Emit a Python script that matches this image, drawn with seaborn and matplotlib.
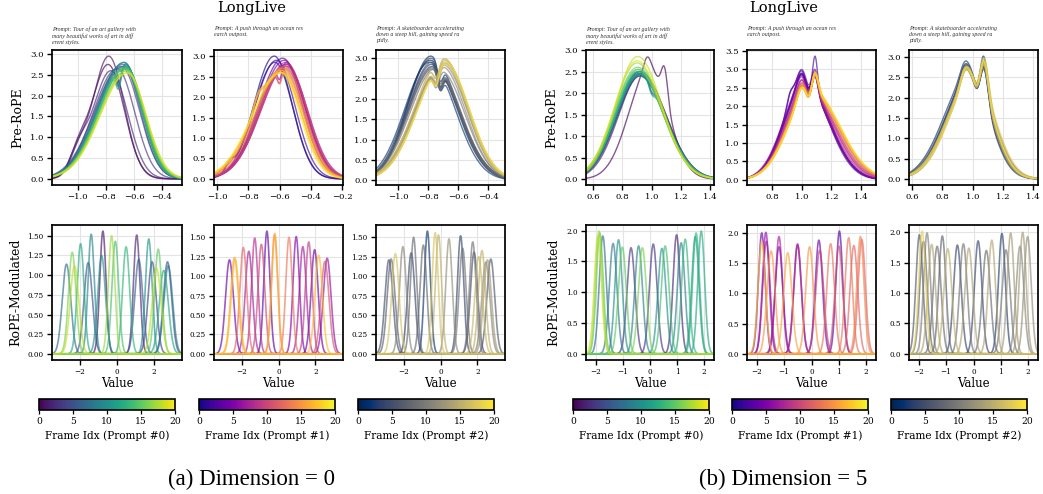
import numpy as np
import pandas as pd
import matplotlib
matplotlib.use("Agg")
import matplotlib.pyplot as plt
import seaborn as sns
from matplotlib.cm import ScalarMappable
from matplotlib.colors import Normalize

# ---------------------------------------------------------------- data
TITLE = "LongLive"
CAPTIONS = ["(a) Dimension = 0", "(b) Dimension = 5"]
PROMPTS = [
    "Prompt: Tour of an art gallery with\nmany beautiful works of art in diff\nerent styles.",
    "Prompt: A push through an ocean res\nearch outpost.",
    "Prompt: A skateboarder accelerating\ndown a steep hill, gaining speed ra\npidly.",
]
CMAPS = ["viridis", "plasma", "cividis"]
CBAR_LABELS = ["Frame Idx (Prompt #0)", "Frame Idx (Prompt #1)", "Frame Idx (Prompt #2)"]
CBAR_TICKS = [0, 5, 10, 15, 20]
FRAME_RANGE = (0, 20)
TOP_FRAMES = list(range(20))

# ---- Pre-RoPE (top row): per-frame centre, peak, left/right spread, plus local bumps
# dimension 0
a0_mu = [-0.785, -0.78, -0.765, -0.72, -0.69, -0.68, -0.675, -0.67, -0.67, -0.665,
         -0.67, -0.66, -0.665, -0.66, -0.665, -0.66, -0.655, -0.65, -0.65, -0.645]
a0_pk = [2.75, 2.95, 2.6, 2.65, 2.7, 2.75, 2.7, 2.8, 2.78, 2.75,
         2.8, 2.7, 2.65, 2.7, 2.68, 2.65, 2.6, 2.6, 2.55, 2.55]
a0_sl = [0.12, 0.115, 0.13, 0.17, 0.19, 0.19, 0.185, 0.19, 0.19, 0.185,
         0.19, 0.19, 0.185, 0.19, 0.19, 0.19, 0.19, 0.195, 0.19, 0.195]
a0_sr = [0.115, 0.11, 0.12, 0.125, 0.13, 0.125, 0.13, 0.125, 0.13, 0.13,
         0.125, 0.13, 0.13, 0.13, 0.125, 0.13, 0.13, 0.13, 0.135, 0.13]
a0_bumps = [(-1.0, 0.06, 0.45, [0, 1, 2]), (-0.71, 0.018, -0.45, [8, 9, 11])]

a1_mu = [-0.635, -0.63, -0.62, -0.58, -0.57, -0.565, -0.56, -0.555, -0.56, -0.555,
         -0.56, -0.565, -0.57, -0.575, -0.58, -0.58, -0.585, -0.59, -0.59, -0.595]
a1_pk = [3.0, 2.85, 2.9, 2.95, 2.9, 2.85, 2.8, 2.75, 2.85, 2.8,
         2.75, 2.7, 2.75, 2.7, 2.65, 2.7, 2.6, 2.65, 2.6, 2.6]
a1_sl = [0.13, 0.135, 0.14, 0.155, 0.16, 0.16, 0.165, 0.165, 0.16, 0.165,
         0.165, 0.17, 0.17, 0.175, 0.175, 0.18, 0.18, 0.175, 0.18, 0.18]
a1_sr = [0.115, 0.115, 0.12, 0.125, 0.13, 0.13, 0.13, 0.135, 0.13, 0.13,
         0.135, 0.13, 0.13, 0.13, 0.13, 0.13, 0.125, 0.13, 0.13, 0.125]
a1_bumps = [(-0.92, 0.025, 0.2, [0, 1]), (-0.74, 0.03, 0.25, [15, 16, 17]),
            (-0.60, 0.015, -0.35, [5, 9, 13])]

a2_mu = [-0.785, -0.78, -0.79, -0.775, -0.78, -0.77, -0.775, -0.765, -0.76, -0.75,
         -0.72, -0.71, -0.705, -0.70, -0.70, -0.695, -0.69, -0.70, -0.69, -0.685]
a2_pk = [2.95, 3.05, 2.9, 2.85, 3.0, 2.8, 2.9, 2.75, 2.8, 2.75,
         2.7, 2.8, 2.85, 2.9, 3.0, 2.95, 2.9, 3.0, 2.85, 2.9]
a2_sl = [0.16, 0.155, 0.165, 0.16, 0.155, 0.165, 0.16, 0.165, 0.17, 0.17,
         0.18, 0.18, 0.175, 0.18, 0.185, 0.18, 0.18, 0.185, 0.18, 0.185]
a2_sr = [0.175, 0.18, 0.17, 0.18, 0.175, 0.18, 0.175, 0.175, 0.17, 0.17,
         0.165, 0.16, 0.165, 0.16, 0.16, 0.165, 0.16, 0.16, 0.165, 0.16]
a2_bumps = [(-0.72, 0.018, -0.45, list(range(0, 10))), (-0.745, 0.02, -0.4, list(range(10, 20)))]

# dimension 5
b0_mu = [0.985, 0.93, 0.925, 0.92, 0.92, 0.915, 0.92, 0.915, 0.92, 0.915,
         0.92, 0.91, 0.915, 0.91, 0.91, 0.905, 0.905, 0.90, 0.905, 0.90]
b0_pk = [2.55, 2.45, 2.4, 2.5, 2.45, 2.5, 2.4, 2.45, 2.5, 2.4,
         2.45, 2.5, 2.45, 2.55, 2.5, 2.6, 2.55, 2.7, 2.85, 2.75]
b0_sl = [0.14, 0.155, 0.16, 0.16, 0.155, 0.16, 0.16, 0.155, 0.16, 0.16,
         0.16, 0.155, 0.16, 0.16, 0.155, 0.16, 0.16, 0.155, 0.15, 0.155]
b0_sr = [0.13, 0.17, 0.17, 0.175, 0.17, 0.17, 0.175, 0.17, 0.17, 0.175,
         0.17, 0.17, 0.175, 0.17, 0.17, 0.175, 0.17, 0.17, 0.165, 0.17]
b0_bumps = [(0.97, 0.025, 0.3, [0]), (1.09, 0.022, 0.75, [0]),
            (1.0, 0.02, -0.2, [5, 8, 11])]

b1_mu = [1.02, 1.015, 1.02, 1.025, 1.02, 1.015, 1.02, 1.03, 1.035, 1.04,
         1.045, 1.05, 1.055, 1.06, 1.06, 1.055, 1.06, 1.065, 1.06, 1.065]
b1_pk = [2.65, 2.7, 2.6, 2.65, 2.75, 2.6, 2.55, 2.5, 2.5, 2.45,
         2.45, 2.4, 2.45, 2.4, 2.45, 2.5, 2.4, 2.45, 2.4, 2.45]
b1_sl = [0.136, 0.135, 0.138, 0.136, 0.135, 0.14, 0.138, 0.142, 0.144, 0.146,
         0.148, 0.15, 0.15, 0.152, 0.152, 0.15, 0.154, 0.152, 0.155, 0.152]
b1_sr = [0.164, 0.16, 0.165, 0.162, 0.164, 0.168, 0.166, 0.17, 0.174, 0.176,
         0.178, 0.18, 0.182, 0.185, 0.188, 0.185, 0.19, 0.188, 0.19, 0.188]
b1_bumps = [(0.995, 0.03, 0.3, list(range(20))), (1.09, 0.02, 0.5, list(range(20))),
            (1.045, 0.02, -0.25, list(range(20))), (1.09, 0.015, 0.5, [2]),
            (0.92, 0.02, 0.25, [1, 4])]

b2_mu = [0.99, 0.995, 0.985, 0.99, 1.0, 0.995, 0.99, 1.0, 0.995, 1.0,
         1.0, 1.005, 1.0, 1.005, 1.01, 1.0, 1.005, 1.01, 1.005, 1.01]
b2_pk = [2.55, 2.5, 2.6, 2.5, 2.55, 2.45, 2.5, 2.55, 2.5, 2.45,
         2.5, 2.55, 2.5, 2.45, 2.55, 2.5, 2.45, 2.55, 2.5, 2.5]
b2_sl = [0.165, 0.16, 0.17, 0.165, 0.16, 0.165, 0.17, 0.165, 0.16, 0.165,
         0.17, 0.165, 0.16, 0.165, 0.17, 0.165, 0.16, 0.165, 0.17, 0.165]
b2_sr = [0.13, 0.135, 0.13, 0.125, 0.13, 0.135, 0.13, 0.125, 0.13, 0.135,
         0.13, 0.125, 0.13, 0.135, 0.13, 0.125, 0.13, 0.135, 0.13, 0.125]
b2_bumps = [(0.95, 0.03, 0.35, list(range(20))), (1.08, 0.025, 0.75, list(range(20))),
            (1.03, 0.02, -0.25, list(range(20))), (1.07, 0.02, 0.25, [0])]

TOP = [[(a0_mu, a0_pk, a0_sl, a0_sr, a0_bumps), (a1_mu, a1_pk, a1_sl, a1_sr, a1_bumps),
        (a2_mu, a2_pk, a2_sl, a2_sr, a2_bumps)],
       [(b0_mu, b0_pk, b0_sl, b0_sr, b0_bumps), (b1_mu, b1_pk, b1_sl, b1_sr, b1_bumps),
        (b2_mu, b2_pk, b2_sl, b2_sr, b2_bumps)]]
TOP_XLIM = [[(-1.185, -0.257), (-1.02, -0.195), (-1.147, -0.287)],
            [(0.552, 1.427), (0.631, 1.50), (0.58, 1.433)]]
TOP_XTICKS = [[[-1.0, -0.8, -0.6, -0.4], [-1.0, -0.8, -0.6, -0.4, -0.2], [-1.0, -0.8, -0.6, -0.4]],
              [[0.6, 0.8, 1.0, 1.2, 1.4], [0.8, 1.0, 1.2, 1.4], [0.6, 0.8, 1.0, 1.2, 1.4]]]
TOP_YTICKS = [[[0, 0.5, 1, 1.5, 2, 2.5, 3]] * 3,
              [[0, 0.5, 1, 1.5, 2, 2.5, 3], [0, 0.5, 1, 1.5, 2, 2.5, 3, 3.5],
               [0, 0.5, 1, 1.5, 2, 2.5, 3]]]

# ---- RoPE-modulated (bottom row): each bump = (centre, peak, frame)
ra0_c = [-2.72, -2.41, -2.29, -1.96, -1.55, -1.39, -0.83, -0.76, -0.29, -0.09,
         0.49, 1.06, 1.17, 1.71, 1.89, 2.13, 2.22, 2.52, 2.72, 2.76]
ra0_h = [1.14, 1.29, 1.12, 1.40, 1.16, 1.52, 1.25, 1.56, 1.50, 1.43,
         1.36, 1.51, 1.20, 1.46, 1.17, 1.09, 1.33, 1.06, 1.17, 1.12]
ra0_f = [7, 16, 18, 12, 5, 9, 10, 1, 17, 14, 13, 2, 6, 10, 4, 18, 15, 12, 5, 8]

ra1_c = [-2.66, -2.39, -2.35, -1.91, -1.61, -1.29, -0.93, -0.63, -0.22, -0.20,
         0.57, 0.96, 1.32, 1.64, 1.96, 2.18, 2.52, 2.64]
ra1_h = [1.21, 1.24, 1.22, 1.37, 1.32, 1.49, 1.41, 1.58, 1.53, 1.55,
         1.50, 1.51, 1.38, 1.44, 1.34, 1.27, 1.19, 1.23]
ra1_f = [4, 16, 17, 12, 7, 8, 10, 3, 15, 16, 13, 5, 7, 9, 4, 17, 11, 6]

ra2_c = [-2.80, -2.68, -2.45, -2.04, -1.59, -1.46, -0.93, -0.71, -0.29, -0.11,
         0.46, 1.09, 1.20, 1.75, 1.82, 2.07, 2.25, 2.46, 2.55, 2.73]
ra2_h = [1.21, 1.22, 1.29, 1.38, 1.30, 1.50, 1.40, 1.58, 1.56, 1.53,
         1.48, 1.52, 1.36, 1.44, 1.31, 1.25, 1.33, 1.18, 1.21, 1.22]
ra2_f = [5, 7, 17, 11, 4, 8, 8, 2, 17, 15, 12, 4, 9, 9, 5, 16, 15, 11, 13, 6]

rb0_c = [-1.92, -1.88, -1.85, -1.74, -1.36, -1.16, -1.02, -0.70, -0.42, -0.28,
         0.12, 0.44, 0.56, 0.98, 1.15, 1.30, 1.67, 1.70, 1.89]
rb0_h = [1.91, 1.99, 1.96, 1.91, 1.79, 1.85, 1.73, 1.72, 1.75, 1.72,
         1.78, 1.71, 1.75, 1.93, 1.80, 1.86, 1.90, 1.96, 1.99]
rb0_f = [18, 17, 15, 7, 8, 10, 15, 3, 9, 16, 3, 10, 14, 2, 9, 13, 11, 13, 12]

rb1_c = [-1.82, -1.67, -1.82, -1.65, -1.48, -1.19, -1.19, -0.87, -0.51, -0.51,
         -0.07, 0.27, 0.30, 0.70, 1.02, 1.00, 1.36, 1.55, 1.79, 1.84]
rb1_h = [2.00, 2.01, 1.85, 1.86, 1.70, 1.94, 1.77, 1.67, 1.82, 1.80,
         1.77, 1.88, 1.71, 1.82, 2.03, 1.78, 1.92, 1.79, 1.94, 1.89]
rb1_f = [4, 6, 17, 7, 15, 7, 5, 16, 8, 5, 15, 4, 9, 13, 3, 10, 13, 12, 14, 12]

rb2_c = [-1.98, -1.88, -1.83, -1.70, -1.53, -1.33, -1.14, -0.94, -0.59, -0.37,
         -0.17, 0.17, 0.47, 0.67, 1.04, 1.19, 1.36, 1.70, 1.80, 1.98]
rb2_h = [1.96, 2.02, 1.85, 1.99, 1.80, 1.77, 1.94, 1.73, 1.79, 1.81,
         1.74, 1.86, 1.70, 1.87, 1.98, 1.71, 1.99, 1.77, 2.00, 1.93]
rb2_f = [6, 18, 8, 10, 14, 8, 7, 15, 4, 9, 14, 4, 8, 14, 3, 9, 13, 11, 13, 12]

BOT = [[(ra0_c, ra0_h, ra0_f), (ra1_c, ra1_h, ra1_f), (ra2_c, ra2_h, ra2_f)],
       [(rb0_c, rb0_h, rb0_f), (rb1_c, rb1_h, rb1_f), (rb2_c, rb2_h, rb2_f)]]
BOT_AREA = [0.65, 0.63]          # area under each bump
BOT_XLIM = [(-3.5, 3.5), (-2.36, 2.36)]
BOT_XTICKS = [[-2, 0, 2], [-2, -1, 0, 1, 2]]
BOT_YTICKS = [[0, 0.25, 0.5, 0.75, 1.0, 1.25, 1.5], [0, 0.5, 1.0, 1.5, 2.0]]

# ---------------------------------------------------------------- style
sns.set_theme(style="ticks")
plt.rcParams["font.family"] = ["DejaVu Serif"]
plt.rcParams.update({
    "axes.linewidth": 1.25, "axes.edgecolor": "black",
    "xtick.color": "black", "ytick.color": "black",
    "xtick.major.size": 3.5, "ytick.major.size": 3.5,
    "xtick.major.width": 1.0, "ytick.major.width": 1.0,
    "xtick.major.pad": 2.5, "ytick.major.pad": 2.5,
    "axes.labelcolor": "black", "text.color": "black",
})

W, H = 1043, 494
fig = plt.figure(figsize=(W / 100, H / 100), dpi=100)


def box(x0, y0, x1, y1):
    return [x0 / W, 1 - y1 / H, (x1 - x0) / W, (y1 - y0) / H]


COL_X = [[(52, 182), (214, 343), (376, 505)], [(586, 714), (747, 876), (909, 1038)]]
CBAR_X = [[(39, 175), (199, 335), (358, 494)], [(573, 709), (732, 868), (891, 1027)]]
TOP_Y, BOT_Y, CBAR_Y = (50, 185), (225, 360), (399, 410)


def top_df(params, xlim):
    mu, pk, sl, sr, bumps = params
    x = np.linspace(xlim[0], xlim[1], 500)
    rows = []
    for f in TOP_FRAMES:
        s = np.where(x < mu[f], sl[f], sr[f])
        y = pk[f] * np.exp(-0.5 * ((x - mu[f]) / s) ** 2)
        for pos, sd, h, frames in bumps:
            if f in frames:
                y = y + h * np.exp(-0.5 * ((x - pos) / sd) ** 2)
        y = np.clip(y, 0, None)
        rows.append(pd.DataFrame({"x": x, "y": y, "frame": f, "unit": f}))
    return pd.concat(rows, ignore_index=True)


def bot_df(params, xlim, area):
    cs, hs, fs = params
    x = np.linspace(xlim[0], xlim[1], 700)
    rows = []
    order = np.argsort(fs, kind="stable")
    for k in order:
        sd = area / (hs[k] * np.sqrt(2 * np.pi))
        y = hs[k] * np.exp(-0.5 * ((x - cs[k]) / sd) ** 2)
        rows.append(pd.DataFrame({"x": x, "y": y, "frame": fs[k], "unit": k}))
    return pd.concat(rows, ignore_index=True)


def style_ax(ax, tick_fs):
    ax.grid(True, color="#e4e4e4", lw=0.8)
    ax.set_axisbelow(True)
    ax.tick_params(labelsize=tick_fs)
    for sp in ax.spines.values():
        sp.set_visible(True)
        sp.set_color("black")
        sp.set_linewidth(1.25)


for d in range(2):
    for p in range(3):
        x0, x1 = COL_X[d][p]
        cmap = CMAPS[p]
        # top row
        ax = fig.add_axes(box(x0, TOP_Y[0], x1, TOP_Y[1]))
        df = top_df(TOP[d][p], TOP_XLIM[d][p])
        sns.lineplot(data=df, x="x", y="y", hue="frame", units="unit", estimator=None,
                     palette=cmap, hue_norm=FRAME_RANGE, legend=False, sort=False,
                     lw=1.0, alpha=0.65, ax=ax)
        ax.set_xlim(*TOP_XLIM[d][p])
        ax.set_xticks(TOP_XTICKS[d][p])
        ax.set_yticks(TOP_YTICKS[d][p])
        ax.set_xlabel("")
        ax.set_ylabel("Pre-RoPE" if p == 0 else "", fontsize=9)
        style_ax(ax, 6.1)
        ax.text(0.0, 1.178, PROMPTS[p], transform=ax.transAxes, ha="left", va="top",
                fontsize=4.2, style="italic", family=["Liberation Serif", "DejaVu Serif"],
                color="#333333", linespacing=1.3)
        # bottom row
        axb = fig.add_axes(box(x0, BOT_Y[0], x1, BOT_Y[1]))
        dfb = bot_df(BOT[d][p], BOT_XLIM[d], BOT_AREA[d])
        sns.lineplot(data=dfb, x="x", y="y", hue="frame", units="unit", estimator=None,
                     palette=cmap, hue_norm=FRAME_RANGE, legend=False, sort=False,
                     lw=1.2, alpha=0.65, ax=axb)
        axb.set_xlim(*BOT_XLIM[d])
        axb.set_xticks(BOT_XTICKS[d])
        axb.set_yticks(BOT_YTICKS[d])
        axb.set_xlabel("Value", fontsize=8.5, labelpad=0.5)
        axb.set_ylabel("RoPE-Modulated" if p == 0 else "", fontsize=9)
        style_ax(axb, 5.2)
        # colourbar
        cx0, cx1 = CBAR_X[d][p]
        cax = fig.add_axes(box(cx0, CBAR_Y[0], cx1, CBAR_Y[1]))
        sm = ScalarMappable(norm=Normalize(*FRAME_RANGE), cmap=cmap)
        cb = fig.colorbar(sm, cax=cax, orientation="horizontal", ticks=CBAR_TICKS)
        cb.outline.set_linewidth(1.2)
        cb.outline.set_edgecolor("black")
        cax.tick_params(labelsize=6.6, length=3, width=0.9, pad=2)
        cb.set_label(CBAR_LABELS[p], fontsize=7.6, labelpad=3)

    fig.text((251.5 if d == 0 else 784) / W, 1 - 8 / H, TITLE, ha="center", va="center",
             fontsize=10.5)
    fig.text((251 if d == 0 else 783) / W, 1 - 479 / H, CAPTIONS[d], ha="center", va="center",
             fontsize=16.5, family=["Liberation Serif", "DejaVu Serif"])

fig.savefig("out.png", dpi=100)
